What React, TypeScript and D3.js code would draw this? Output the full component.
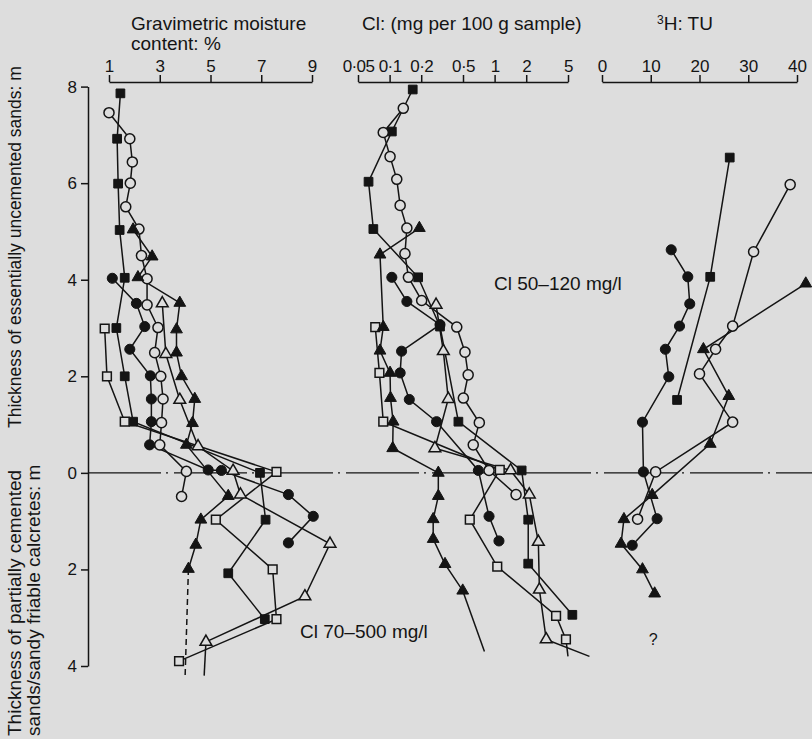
import React, { useEffect, useRef } from 'react';
import * as d3 from 'd3';

// depth axis (m): positive = uncemented sands above the 0 line, negative = calcretes below
const depthTicks = [-4, -2, 0, 2, 4, 6, 8];
const moistureTicks = [1, 3, 5, 7, 9];
const chlorideTicks = [0.05, 0.1, 0.2, 0.5, 1, 2, 5];
const tritiumTicks = [0, 10, 20, 30, 40];

// gravimetric moisture: [% , depth]
const moistFilledSquare = [[1.45, 7.86], [1.32, 6.92], [1.36, 5.99], [1.42, 5.03], [1.62, 4.04], [1.29, 3.0], [1.62, 2.0], [1.95, 1.06], [6.95, 0.0], [7.17, -0.97], [5.7, -2.08], [7.14, -3.03]];
const moistOpenSquare = [[0.83, 2.99], [0.92, 2.0], [1.62, 1.06], [7.6, 0.02], [5.21, -0.97], [7.45, -2.0], [7.6, -3.03], [3.76, -3.9]];
const moistFilledCircle = [[1.13, 4.03], [2.08, 3.51], [2.41, 3.03], [1.82, 2.56], [2.63, 2.01], [2.67, 1.53], [2.67, 1.06], [2.6, 0.58], [4.91, 0.06], [5.43, 0.05], [8.07, -0.45], [9.05, -0.9], [8.07, -1.45]];
const moistOpenCircle = [[1.0, 7.46], [1.82, 6.92], [1.92, 6.44], [1.84, 6.0], [1.66, 5.51], [2.18, 5.05], [2.28, 4.5], [2.5, 4.02], [2.5, 3.48], [2.93, 3.01], [2.8, 2.49], [3.04, 2.0], [3.13, 1.53], [3.07, 1.04], [3.0, 0.58], [4.05, 0.03], [3.86, -0.49]];
const moistFilledTriangle = [[1.95, 5.04], [2.7, 4.48], [2.14, 4.05], [3.79, 3.52], [3.66, 2.97], [3.66, 2.49], [3.86, 2.0], [4.38, 1.53], [4.29, 1.03], [4.05, 0.58], [5.7, -0.48], [4.62, -0.97], [4.42, -1.49], [4.13, -1.99]];
const moistFilledTriangleTail = [[4.13, -1.99], [4.0, -4.2]];
const moistOpenTriangle = [[3.1, 3.51], [3.24, 2.46], [3.79, 1.51], [4.51, 0.55], [5.89, 0.04], [6.18, -0.45], [9.71, -1.47], [8.72, -2.56], [4.82, -3.5]];
const moistOpenTriangleTail = [[4.82, -3.5], [4.75, -4.2]];

// Cl (mg per 100 g sample): [Cl, depth]
const clFilledSquare = [[0.166, 7.94], [0.105, 7.07], [0.063, 6.03], [0.07, 5.05], [0.187, 4.05], [0.302, 3.03], [0.452, 1.06], [1.81, 0.05], [2.09, -0.97], [2.09, -1.88], [5.5, -2.94]];
const clOpenSquare = [[0.073, 3.02], [0.08, 2.07], [0.087, 1.06], [1.12, 0.06], [0.58, -0.97], [1.06, -1.94], [3.85, -2.96], [4.78, -3.45]];
const clOpenSquareTail = [[4.78, -3.45], [5.0, -3.8]];
const clFilledCircle = [[0.105, 4.05], [0.146, 3.55], [0.302, 3.07], [0.13, 2.52], [0.126, 2.07], [0.154, 1.52], [0.28, 1.06], [0.7, 0.05], [0.885, -0.9], [1.1, -1.41]];
const clOpenCircle = [[0.135, 7.55], [0.087, 7.05], [0.101, 6.55], [0.117, 6.08], [0.126, 5.54], [0.146, 5.07], [0.14, 4.54], [0.151, 4.05], [0.202, 3.57], [0.436, 3.02], [0.522, 2.5], [0.56, 2.03], [0.504, 1.55], [0.715, 1.04], [0.626, 0.58], [0.885, 0.05], [1.6, -0.45]];
const clFilledTriangle = [[0.192, 5.07], [0.081, 4.52], [0.087, 3.02], [0.081, 2.53], [0.101, 2.07], [0.102, 1.55], [0.108, 1.06], [0.107, 0.51], [0.291, 0.0], [0.291, -0.48], [0.26, -0.96], [0.26, -1.37], [0.337, -1.89], [0.497, -2.44]];
const clFilledTriangleTail = [[0.497, -2.44], [0.8, -3.7]];
const clOpenTriangle = [[0.277, 3.48], [0.325, 2.52], [0.362, 1.53], [0.27, 0.51], [1.42, 0.05], [2.14, -0.45], [2.61, -1.43], [2.67, -2.42], [3.1, -3.45]];
const clOpenTriangleTail = [[3.1, -3.45], [8.0, -3.8]];

// tritium (TU): [TU, depth]
const tuFilledSquare = [[26.2, 6.53], [22.2, 4.06], [15.4, 1.51]];
const tuOpenCircle = [[38.6, 5.97], [31.1, 4.58], [26.8, 3.04], [23.3, 2.56], [20, 2.05], [26.8, 1.05], [11, 0.02], [7.3, -0.96]];
const tuFilledCircle = [[14.2, 4.62], [17.6, 4.06], [18, 3.5], [15.9, 3.04], [13, 2.56], [13.7, 1.99], [8.3, 1.05], [8.5, 0.02], [11.3, -0.95], [6.2, -1.5]];
const tuFilledTriangle = [[41.8, 3.92], [20.8, 2.56], [26, 1.59], [22.2, 0.6], [10.3, -0.46], [4.5, -0.96], [3.9, -1.47], [8.3, -2.0], [10.8, -2.5]];

const W = 812;
const H = 739;
const BG = '#dddddd';
const INK = '#141414';
const FONT = '"Liberation Sans", Arial, sans-serif';

const App = () => {
  const svgRef = useRef(null);

  useEffect(() => {
    const svg = d3.select(svgRef.current);
    svg.selectAll('*').remove();
    svg.append('rect').attr('width', W).attr('height', H).attr('fill', BG);

    const y = d3.scaleLinear().domain([-4, 8]).range([666, 86.6]);
    const xM = d3.scaleLinear().domain([1, 9]).range([109, 312]);
    const xC = d3.scaleLog().domain([0.05, 5]).range([358, 568]);
    const xT = d3.scaleLinear().domain([0, 40]).range([602, 797]);
    const axisY = 82;

    const styleAxis = g => {
      g.selectAll('path, line').attr('stroke', INK).attr('stroke-width', 1.5);
      g.selectAll('text').attr('fill', INK).attr('font-family', FONT).attr('font-size', 17);
    };

    // top axes
    svg.append('g').attr('transform', `translate(0,${axisY})`)
      .call(d3.axisTop(xM).tickValues(moistureTicks).tickSize(7).tickSizeOuter(0).tickPadding(3))
      .call(styleAxis);
    svg.append('g').attr('transform', `translate(0,${axisY})`)
      .call(d3.axisTop(xC).tickValues(chlorideTicks).tickSize(7).tickSizeOuter(0).tickPadding(3)
        .tickFormat(d => String(d).replace('.', '\u00b7')))
      .call(styleAxis)
      .call(g => g.selectAll('text').attr('letter-spacing', -0.6));
    svg.append('g').attr('transform', `translate(0,${axisY})`)
      .call(d3.axisTop(xT).tickValues(tritiumTicks).tickSize(7).tickSizeOuter(0).tickPadding(3))
      .call(styleAxis);

    // depth axis
    svg.append('g').attr('transform', 'translate(88,0)')
      .call(d3.axisLeft(y).tickValues(depthTicks).tickSize(7).tickSizeOuter(0).tickPadding(4)
        .tickFormat(d => String(Math.abs(d))))
      .call(styleAxis);

    // boundary between sands and calcretes
    svg.append('line')
      .attr('x1', 88).attr('x2', W).attr('y1', y(0)).attr('y2', y(0))
      .attr('stroke', INK).attr('stroke-width', 1.4)
      .attr('stroke-dasharray', '73 5 2 6');

    const txt = (x, yy, s, opts = {}) => svg.append('text')
      .attr('x', x).attr('y', yy).attr('fill', INK)
      .attr('font-family', FONT).attr('font-size', opts.size || 19)
      .attr('text-anchor', opts.anchor || 'start')
      .attr('transform', opts.rotate ? `rotate(-90,${x},${yy})` : null)
      .text(s);

    txt(131, 30, 'Gravimetric moisture');
    txt(131, 50, 'content: %');
    txt(362, 30, 'Cl: (mg per 100 g sample)');
    const h3 = svg.append('text').attr('x', 657).attr('y', 30).attr('fill', INK)
      .attr('font-family', FONT).attr('font-size', 19);
    h3.append('tspan').attr('font-size', 12).attr('dy', -6).text('3');
    h3.append('tspan').attr('dy', 6).text('H: TU');

    txt(21, 428, 'Thickness of essentially uncemented sands: m', { rotate: true, size: 17.5 });
    txt(21, 736, 'Thickness of partially cemented', { rotate: true });
    txt(40, 736, 'sands/sandy friable calcretes: m', { rotate: true });

    txt(494, 290, 'Cl 50\u2013120 mg/l');
    txt(300, 638, 'Cl 70\u2013500 mg/l');
    txt(xT(10.5), 645, '?', { anchor: 'middle', size: 16 });

    const profiles = [
      { x: xM, pts: moistFilledSquare, m: 'square', fill: true },
      { x: xM, pts: moistOpenSquare, m: 'square', fill: false },
      { x: xM, pts: moistFilledCircle, m: 'circle', fill: true },
      { x: xM, pts: moistOpenCircle, m: 'circle', fill: false },
      { x: xM, pts: moistFilledTriangle, m: 'triangle', fill: true, tail: moistFilledTriangleTail, dashed: true },
      { x: xM, pts: moistOpenTriangle, m: 'triangle', fill: false, tail: moistOpenTriangleTail },
      { x: xC, pts: clFilledSquare, m: 'square', fill: true },
      { x: xC, pts: clOpenSquare, m: 'square', fill: false, tail: clOpenSquareTail },
      { x: xC, pts: clFilledCircle, m: 'circle', fill: true },
      { x: xC, pts: clOpenCircle, m: 'circle', fill: false },
      { x: xC, pts: clFilledTriangle, m: 'triangle', fill: true, tail: clFilledTriangleTail },
      { x: xC, pts: clOpenTriangle, m: 'triangle', fill: false, tail: clOpenTriangleTail },
      { x: xT, pts: tuFilledSquare, m: 'square', fill: true },
      { x: xT, pts: tuOpenCircle, m: 'circle', fill: false },
      { x: xT, pts: tuFilledCircle, m: 'circle', fill: true },
      { x: xT, pts: tuFilledTriangle, m: 'triangle', fill: true },
    ];

    const lines = svg.append('g').attr('fill', 'none').attr('stroke', INK).attr('stroke-width', 1.5);
    profiles.forEach(p => {
      const line = d3.line().x(d => p.x(d[0])).y(d => y(d[1]));
      lines.append('path').attr('d', line(p.pts));
      if (p.tail) {
        lines.append('path').attr('d', line(p.tail))
          .attr('stroke-dasharray', p.dashed ? '6 4' : null);
      }
    });

    const symbols = {
      square: d3.symbol().type(d3.symbolSquare).size(76),
      circle: d3.symbol().type(d3.symbolCircle).size(80),
      triangle: d3.symbol().type(d3.symbolTriangle).size(60),
    };
    const marks = svg.append('g');
    profiles.forEach(p => {
      marks.selectAll(null)
        .data(p.pts)
        .enter()
        .append('path')
        .attr('transform', d => `translate(${p.x(d[0])},${y(d[1])})`)
        .attr('d', symbols[p.m]())
        .attr('fill', p.fill ? INK : BG)
        .attr('stroke', INK)
        .attr('stroke-width', p.fill ? 1 : 1.5);
    });
  }, []);

  return (
    <div style={{ position: 'fixed', left: 0, top: 0 }}>
      <svg ref={svgRef} width={W} height={H} style={{ display: 'block' }}></svg>
    </div>
  );
};

export default App;
